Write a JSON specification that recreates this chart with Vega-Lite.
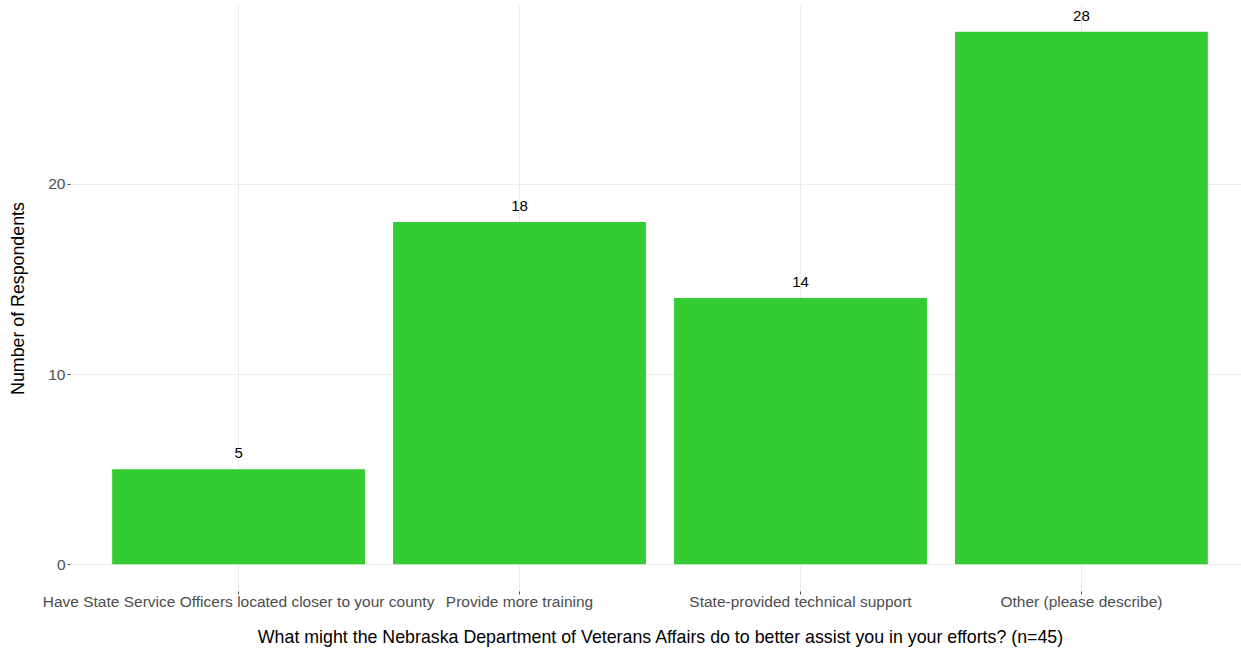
{
  "$schema": "https://vega.github.io/schema/vega-lite/v6.json",
  "autosize": "none",
  "width": 1180,
  "height": 586,
  "padding": {"left": 70, "top": 5, "right": 0, "bottom": 60},
  "background": "white",
  "config": {
    "view": {"stroke": null},
    "font": "Liberation Sans",
    "axis": {
      "gridColor": "#ebebeb",
      "gridWidth": 1,
      "domain": false,
      "tickColor": "#4d4d4d",
      "tickSize": 3,
      "labelFont": "Liberation Sans",
      "labelFontSize": 15.5,
      "labelColor": "#4d4d4d",
      "titleFont": "Liberation Sans",
      "titleFontSize": 17.8,
      "titleFontWeight": "normal",
      "titleColor": "#000000"
    }
  },
  "data": {
    "values": [
      {"option": "Have State Service Officers located closer to your county", "count": 5},
      {"option": "Provide more training", "count": 18},
      {"option": "State-provided technical support", "count": 14},
      {"option": "Other (please describe)", "count": 28}
    ]
  },
  "encoding": {
    "x": {
      "field": "option",
      "type": "nominal",
      "sort": null,
      "scale": {"paddingInner": 0.1, "paddingOuter": 0.15},
      "axis": {
        "title": "What might the Nebraska Department of Veterans Affairs do to better assist you in your efforts? (n=45)",
        "labelAngle": 0,
        "labelPadding": 0,
        "titlePadding": 19,
        "grid": true,
        "labelLimit": 420
      }
    },
    "y": {
      "field": "count",
      "type": "quantitative",
      "scale": {"domain": [-1.4, 29.4], "nice": false, "zero": false},
      "axis": {
        "title": "Number of Respondents",
        "values": [0, 10, 20],
        "labelPadding": 2,
        "titlePadding": 20
      }
    }
  },
  "layer": [
    {"mark": {"type": "bar", "color": "#33CC33"}},
    {
      "mark": {"type": "text", "baseline": "bottom", "dy": -8, "fontSize": 15, "color": "#000000", "font": "Liberation Sans"},
      "encoding": {"text": {"field": "count", "type": "quantitative"}}
    }
  ]
}
